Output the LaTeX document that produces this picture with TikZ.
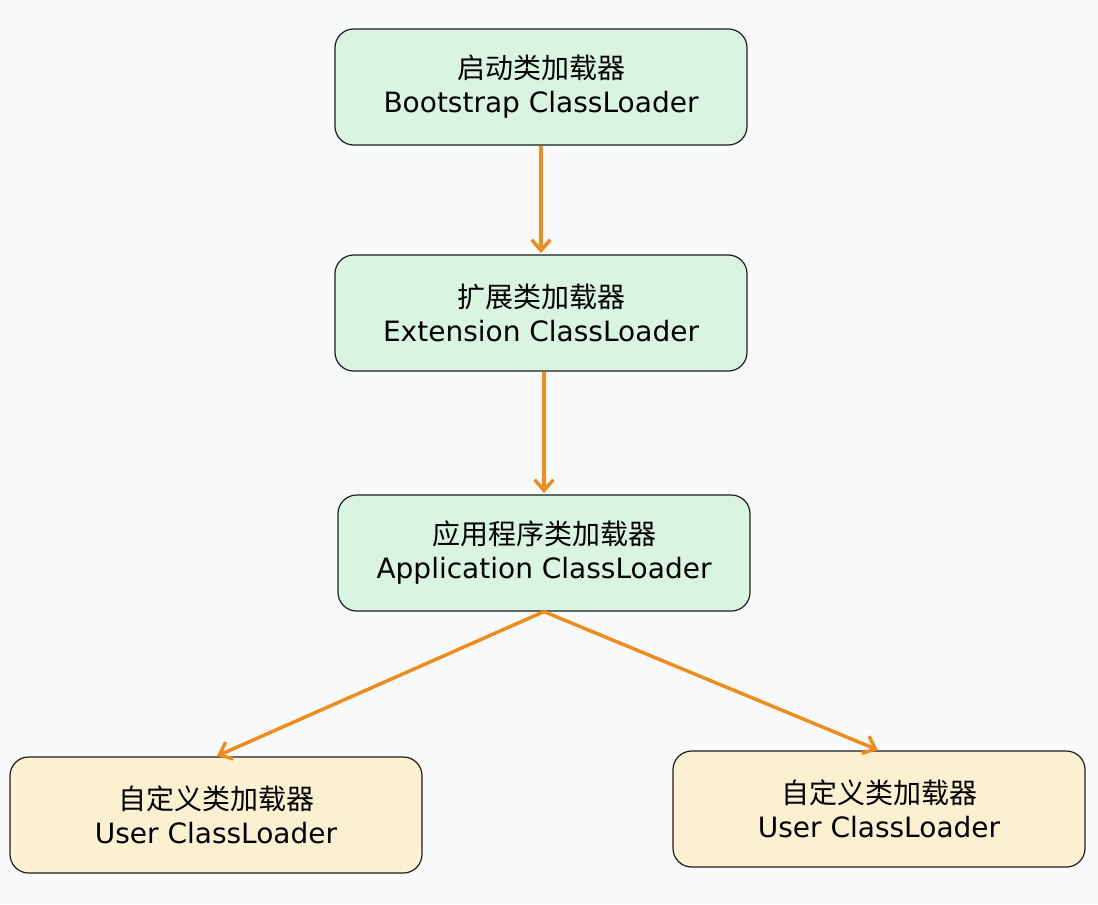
\documentclass[tikz,border=0pt]{standalone}
\usepackage{xcolor}
\usepackage{fontspec}
\setmainfont{DejaVu Sans}
\newfontfamily\cjk{Noto Sans CJK SC}
\usetikzlibrary{arrows.meta, positioning}
\definecolor{bgpaper}{HTML}{F8F9FA}
\definecolor{loadgreen}{HTML}{D9F4E0}
\definecolor{loadyellow}{HTML}{FBF1D0}
\definecolor{linkorange}{HTML}{F08C1C}
\definecolor{inkdark}{HTML}{1E1E1E}

\begin{document}
\begin{tikzpicture}[x=0.75pt, y=-0.75pt,
				->,
				>={Straight Barb[length=8pt, width=14pt]},
				shorten >=1pt,
				link/.style={draw=linkorange, line width=2.6pt},
				loader/.style={draw=inkdark, line width=0.9pt, rounded corners=14pt,
					minimum width=309pt, minimum height=87pt, align=center,
					font=\fontsize{21}{25.5}\selectfont},
				sys/.style={loader, fill=loadgreen},
				user/.style={loader, fill=loadyellow}]
				\fill[bgpaper] (0,0) rectangle (1098,904);
				\useasboundingbox (0,0) rectangle (1098,904);
				\node at (541,87) (boot) [sys] {{\cjk 启动类加载器}\\Bootstrap ClassLoader};
				\node at (541,313) (ext) [sys] {{\cjk 扩展类加载器}\\Extension ClassLoader};
				\node at (544,553) (app) [sys] {{\cjk 应用程序类加载器}\\Application ClassLoader};
				\node at (216,815) (userl) [user] {{\cjk 自定义类加载器}\\User ClassLoader};
				\node at (879,809) (userr) [user] {{\cjk 自定义类加载器}\\User ClassLoader};
				\draw[link] (boot) -- (ext);
				\draw[link] (ext.south -| app.north) -- (app.north);
				\draw[link] (app.south) -- (userl.north);
				\draw[link] (app.south) -- (userr.north);
			\end{tikzpicture}
\end{document}
